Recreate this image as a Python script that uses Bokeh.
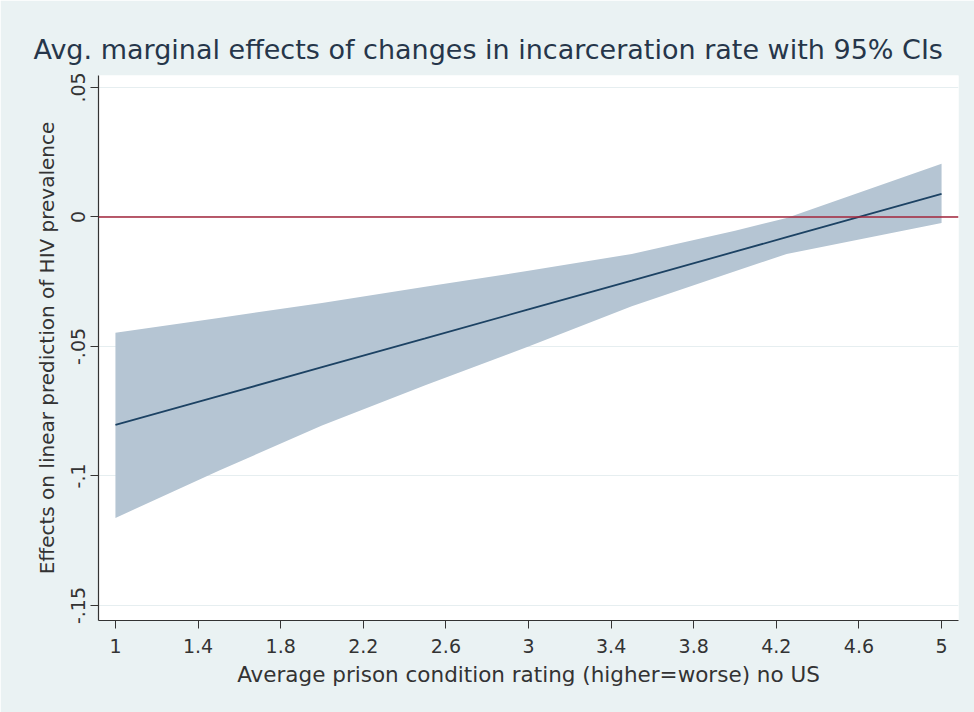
from bokeh.plotting import figure
from bokeh.models import Range1d, FixedTicker, CustomJSTickFormatter, Span
from bokeh.embed import file_html
from bokeh.resources import INLINE

# ---- data ----
x_vals = [1.0, 1.5, 2.0, 2.5, 3.0, 3.5, 4.0, 4.25, 5.0]
effect = [-0.0803, -0.0692, -0.0580, -0.0469, -0.0357, -0.0246, -0.0134, -0.0078, 0.0089]
ci_upper = [-0.0447, -0.0390, -0.0332, -0.0270, -0.0208, -0.0143, -0.0053, -0.0004, 0.0205]
ci_lower = [-0.1162, -0.0980, -0.0805, -0.0650, -0.0500, -0.0345, -0.0210, -0.0143, -0.0023]
x_ticks = [1, 1.4, 1.8, 2.2, 2.6, 3, 3.4, 3.8, 4.2, 4.6, 5]
y_ticks = [-0.15, -0.1, -0.05, 0, 0.05]
ref_value = 0

title_text = "Avg. marginal effects of changes in incarceration rate with 95% CIs"
x_label = "Average prison condition rating (higher=worse) no US"
y_label = "Effects on linear prediction of HIV prevalence"

BG = "#EAF2F3"
FONT = "DejaVu Sans"

p = figure(width=974, height=712, output_backend="svg", toolbar_location=None,
           x_range=Range1d(0.918, 5.082), y_range=Range1d(-0.1558, 0.0546),
           min_border_left=98, min_border_right=16, min_border_top=75,
           min_border_bottom=92)

p.title.text = title_text
p.title.align = "left"
p.title.offset = -65
p.title.text_font = FONT
p.title.text_font_size = "27px"
p.title.text_font_style = "normal"
p.title.text_color = "#26364A"
p.title.standoff = 21

p.background_fill_color = "white"
p.border_fill_color = BG
p.outline_line_color = None

# CI band and line
p.varea(x=x_vals, y1=ci_lower, y2=ci_upper, fill_color="#B5C5D3", fill_alpha=1.0)
p.line(x=x_vals, y=effect, line_color="#1C4263", line_width=1.8)

# reference line at zero
p.add_layout(Span(location=ref_value, dimension="width", line_color="#A3243B",
                  line_width=1.6))

# axes
p.xaxis.ticker = FixedTicker(ticks=x_ticks)
p.yaxis.ticker = FixedTicker(ticks=y_ticks)
p.yaxis.formatter = CustomJSTickFormatter(code="""
    const s = (Math.round(tick*100)/100).toString();
    return s.replace('0.', '.');
""")
p.yaxis.major_label_orientation = "vertical"

for ax in (p.xaxis[0], p.yaxis[0]):
    ax.axis_line_color = "#333333"
    ax.axis_line_width = 1.2
    ax.major_tick_line_color = "#333333"
    ax.major_tick_in = 0
    ax.major_tick_out = 8
    ax.minor_tick_line_color = None
    ax.major_label_text_font = FONT
    ax.major_label_text_font_size = "19px"
    ax.major_label_text_color = "#333333"
    ax.axis_label_text_font = FONT
    ax.axis_label_text_font_style = "normal"
    ax.axis_label_text_color = "#333333"

p.xaxis.axis_label = x_label
p.yaxis.axis_label = y_label
p.xaxis.axis_label_text_font_size = "21.5px"
p.yaxis.axis_label_text_font_size = "20px"
p.xaxis.major_label_standoff = 10
p.xaxis.axis_label_standoff = 6
p.yaxis.major_label_standoff = 5
p.yaxis.axis_label_standoff = 10

p.xgrid.grid_line_color = None
p.ygrid.grid_line_color = "#E6EEF0"
p.ygrid.grid_line_width = 1.2

open("out.html", "w").write(file_html(p, INLINE))
